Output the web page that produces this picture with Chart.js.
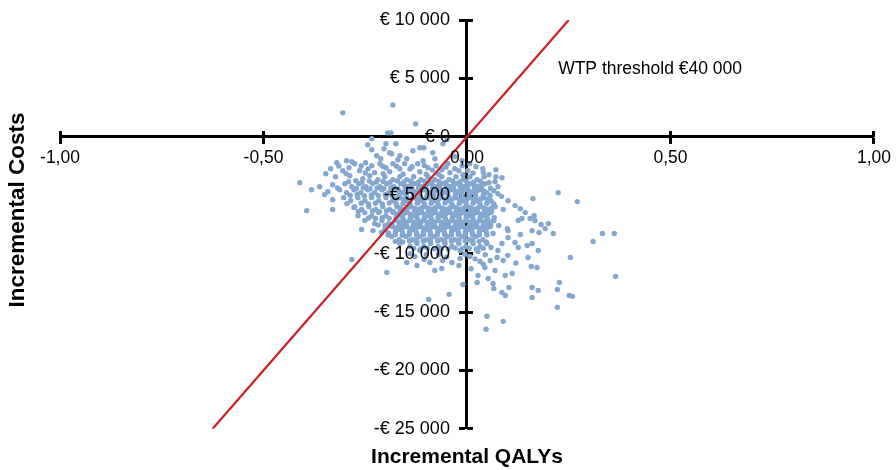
<!DOCTYPE html>
<html>
<head>
<meta charset="utf-8">
<script src="https://cdn.jsdelivr.net/npm/chart.js@4.4.1/dist/chart.umd.min.js"></script>
<style>
  html, body { margin: 0; padding: 0; background: #fff; }
  #wrap { width: 896px; height: 470px; }
</style>
</head>
<body>
<div id="wrap"><canvas id="ce-plane"></canvas></div>
<script>
const qalyTicks = [-1, -0.5, 0, 0.5, 1];
const costTicks = [10000, 5000, 0, -5000, -10000, -15000, -20000, -25000];
const wtpThreshold = 40000;
const wtpLabel = 'WTP threshold €40 000';
const wtpLabelPos = [0.224, 5800];
const xTitle = 'Incremental QALYs';
const yTitle = 'Incremental Costs';

// bootstrap simulations: [incremental QALYs, incremental costs]
const simulations = [
  [-0.182,2730],[-0.305,2050],[-0.126,1110],[-0.195,340],[-0.187,340],[-0.234,-170],
  [-0.049,-260],[-0.059,-600],[-0.244,-680],[-0.199,-600],[-0.175,-600],[-0.204,-1020],[-0.234,-1110],
  [-0.133,-1200],[-0.116,-940],[-0.106,-940],[-0.084,-1370],
  [-0.222,-1620],[-0.190,-1370],[-0.185,-1450],[-0.212,-1880],[-0.170,-1960],[-0.165,-1620],[-0.148,-1880],
  [-0.108,-2050],[-0.079,-1880],[-0.296,-2050],[-0.283,-2130],[-0.320,-2220],[-0.249,-2220],[-0.047,-2300],
  [-0.030,-1710],[-0.012,-2050],[0.007,-2300],
  [-0.335,-2730],[-0.347,-3160],[-0.276,-2300],[-0.305,-2900],[-0.234,-2480],[-0.214,-2300],[-0.199,-2650],
  [-0.182,-2300],[-0.165,-2730],[-0.153,-2300],[-0.135,-2560],[-0.121,-2300],[-0.096,-2650],[-0.076,-2480],
  [-0.062,-2820],[-0.030,-2730],[-0.012,-2480],[0.002,-2900],[0.022,-2560],[0.039,-2730],[0.071,-2820],
  [-0.264,-2900],[-0.227,-3070],[-0.190,-2990],[-0.116,-2990],[-0.042,-3070],[0.054,-3240],
  [-0.315,-2500],[-0.290,-2650],[-0.260,-2500],[-0.243,-2750],[-0.207,-2520],[-0.173,-2520],[-0.140,-2750],
  [-0.105,-2450],[-0.085,-2850],[-0.052,-2600],[-0.020,-2900],[-0.297,-3150],[-0.250,-3100],[-0.206,-3150],
  [-0.157,-3200],[-0.100,-3200],[-0.070,-3200],[-0.010,-3250],[0.015,-3100],[0.040,-3050],
  [-0.323,-3420],[-0.288,-3330],[-0.256,-3590],[-0.239,-3330],[-0.219,-3670],[-0.202,-3420],[-0.182,-3670],
  [-0.165,-3420],[-0.148,-3670],[-0.131,-3420],[-0.113,-3670],[-0.096,-3420],[-0.079,-3670],[-0.062,-3420],
  [-0.044,-3670],[-0.027,-3420],[-0.010,-3670],[0.007,-3420],[0.025,-3670],[0.042,-3420],[0.071,-3420],
  [0.086,-3500],[-0.273,-3760],
  [-0.291,-3850],[-0.258,-3900],[-0.240,-3780],[-0.223,-3880],[-0.206,-3820],[-0.189,-3900],[-0.171,-3790],
  [-0.155,-3870],[-0.138,-3810],[-0.120,-3900],[-0.104,-3800],[-0.086,-3880],[-0.069,-3820],[-0.052,-3900],
  [-0.035,-3790],[-0.018,-3860],[-0.001,-3810],[0.016,-3890],[0.033,-3800],
  [-0.411,-3930],[-0.362,-4270],[-0.330,-4100],[-0.300,-4010],[-0.283,-4270],[-0.266,-4010],[-0.249,-4270],
  [-0.232,-4010],[-0.214,-4270],[-0.197,-4010],[-0.180,-4270],[-0.163,-4010],[-0.145,-4270],[-0.128,-4010],
  [-0.111,-4270],[-0.094,-4010],[-0.076,-4270],[-0.059,-4010],[-0.042,-4270],[-0.025,-4010],[-0.007,-4270],
  [0.010,-4010],[0.027,-4270],[0.044,-4010],[0.069,-3840],[0.054,-3930],[0.076,-4270],
  [-0.154,-4150],[-0.137,-4120],[-0.119,-4170],[-0.102,-4140],[-0.085,-4160],[-0.068,-4130],[-0.050,-4170],
  [-0.033,-4140],[-0.016,-4150],[0.002,-4120],[0.019,-4160],[0.036,-4140],
  [-0.318,-4380],[-0.272,-4420],[-0.255,-4360],[-0.238,-4450],[-0.221,-4390],[-0.204,-4430],[-0.187,-4370],
  [-0.170,-4440],[-0.152,-4380],[-0.136,-4420],[-0.119,-4360],[-0.101,-4450],[-0.084,-4390],[-0.067,-4430],
  [-0.050,-4370],[-0.033,-4440],[-0.016,-4380],[0.001,-4420],[0.018,-4360],[0.035,-4450],[0.058,-4400],
  [-0.382,-4530],[-0.342,-4700],[-0.313,-4530],[-0.296,-4780],[-0.278,-4530],[-0.261,-4780],[-0.244,-4530],
  [-0.227,-4780],[-0.209,-4530],[-0.192,-4780],[-0.175,-4530],[-0.158,-4780],[-0.140,-4530],[-0.123,-4780],
  [-0.106,-4530],[-0.089,-4780],[-0.071,-4530],[-0.054,-4780],[-0.037,-4530],[-0.020,-4780],[-0.002,-4530],
  [0.015,-4780],[0.032,-4530],[0.049,-4780],[0.066,-4610],[0.076,-4870],[0.224,-4780],
  [-0.167,-4650],[-0.149,-4670],[-0.132,-4630],[-0.115,-4660],[-0.097,-4640],[-0.080,-4670],[-0.063,-4650],
  [-0.046,-4630],[-0.028,-4660],[-0.011,-4640],[0.006,-4670],[0.024,-4650],[0.041,-4630],
  [-0.350,-4950],[-0.287,-5000],[-0.270,-4940],[-0.252,-5050],[-0.235,-4980],[-0.218,-5030],[-0.201,-4960],
  [-0.184,-5040],[-0.166,-4970],[-0.149,-5020],[-0.132,-4950],[-0.115,-5050],[-0.098,-4980],[-0.081,-5030],
  [-0.063,-4960],[-0.046,-5040],[-0.029,-4970],[-0.012,-5020],[0.005,-4950],[0.022,-5050],[0.040,-4990],
  [0.057,-5030],[0.085,-5100],
  [-0.330,-5380],[-0.303,-5210],[-0.286,-5470],[-0.268,-5210],[-0.251,-5470],[-0.234,-5210],[-0.217,-5470],
  [-0.199,-5210],[-0.182,-5470],[-0.165,-5210],[-0.148,-5470],[-0.131,-5210],[-0.113,-5470],[-0.096,-5210],
  [-0.079,-5470],[-0.062,-5210],[-0.044,-5470],[-0.027,-5210],[-0.010,-5470],[0.007,-5210],[0.025,-5470],
  [0.042,-5210],[0.059,-5470],[0.101,-5470],[0.162,-5290],[0.271,-5550],
  [-0.174,-5330],[-0.156,-5360],[-0.139,-5340],[-0.122,-5370],[-0.105,-5330],[-0.087,-5350],[-0.070,-5340],
  [-0.053,-5370],[-0.036,-5330],[-0.018,-5360],[-0.001,-5340],[0.016,-5370],[0.034,-5330],[0.051,-5350],
  [-0.295,-5720],[-0.260,-5680],[-0.242,-5750],[-0.225,-5690],[-0.208,-5740],[-0.191,-5670],[-0.174,-5760],
  [-0.157,-5700],[-0.140,-5730],[-0.122,-5680],[-0.105,-5750],[-0.088,-5690],[-0.071,-5740],[-0.054,-5670],
  [-0.037,-5760],[-0.019,-5700],[-0.002,-5730],[0.015,-5680],[0.032,-5750],[0.049,-5690],[0.066,-5740],
  [-0.394,-6320],[-0.330,-6230],[-0.276,-5980],[-0.259,-6230],[-0.241,-5980],[-0.224,-6230],[-0.207,-5980],
  [-0.190,-6230],[-0.172,-5980],[-0.155,-6230],[-0.138,-5980],[-0.121,-6230],[-0.103,-5980],[-0.086,-6230],
  [-0.069,-5980],[-0.052,-6230],[-0.034,-5980],[-0.017,-6230],[0.000,-5980],[0.017,-6230],[0.034,-5980],
  [0.052,-6230],[0.069,-5980],[0.118,-5890],[0.089,-6230],[0.131,-6150],
  [-0.164,-6100],[-0.147,-6080],[-0.129,-6120],[-0.112,-6090],[-0.095,-6110],[-0.078,-6080],[-0.060,-6120],
  [-0.043,-6100],[-0.026,-6090],[-0.008,-6110],[0.009,-6080],[0.026,-6120],[0.043,-6100],[0.061,-6090],
  [-0.267,-6400],[-0.232,-6350],[-0.215,-6410],[-0.198,-6340],[-0.181,-6390],[-0.164,-6360],[-0.147,-6420],
  [-0.129,-6350],[-0.112,-6400],[-0.095,-6340],[-0.078,-6410],[-0.061,-6370],[-0.043,-6400],[-0.026,-6340],
  [-0.009,-6390],[0.008,-6360],[0.025,-6420],[0.043,-6350],[0.060,-6380],
  [-0.173,-6620],[-0.156,-6600],[-0.139,-6640],[-0.122,-6610],[-0.105,-6630],[-0.087,-6600],[-0.070,-6640],
  [-0.053,-6620],[-0.035,-6610],[-0.018,-6630],[-0.001,-6600],[0.016,-6640],[0.033,-6620],[0.051,-6610],
  [-0.278,-6060],[-0.268,-6750],[-0.251,-6490],[-0.234,-6750],[-0.217,-6490],[-0.199,-6750],[-0.182,-6490],
  [-0.165,-6750],[-0.148,-6490],[-0.131,-6750],[-0.113,-6490],[-0.096,-6750],[-0.079,-6490],[-0.062,-6750],
  [-0.044,-6490],[-0.027,-6750],[-0.010,-6490],[0.007,-6750],[0.025,-6490],[0.042,-6750],[0.059,-6490],
  [0.143,-6490],[0.165,-6750],
  [-0.242,-6950],[-0.225,-7000],[-0.208,-6920],[-0.191,-6980],[-0.174,-6940],[-0.157,-7010],[-0.139,-6930],
  [-0.122,-6990],[-0.105,-6950],[-0.088,-7000],[-0.071,-6920],[-0.053,-6980],[-0.036,-6940],[-0.019,-7010],
  [-0.002,-6930],[0.015,-6990],[0.032,-6950],[0.050,-7000],[0.067,-6920],
  [0.155,-7000],[0.126,-7170],[0.135,-7000],[0.167,-7170],[0.182,-7510],[0.200,-7430],
  [-0.227,-7430],[-0.209,-7170],[-0.192,-7430],[-0.175,-7170],[-0.158,-7430],[-0.140,-7170],[-0.123,-7430],
  [-0.106,-7170],[-0.089,-7430],[-0.071,-7170],[-0.054,-7430],[-0.037,-7170],[-0.020,-7430],[-0.002,-7170],
  [0.015,-7430],[0.032,-7170],[0.049,-7430],[0.066,-7170],[-0.251,-7170],
  [-0.166,-7300],[-0.149,-7280],[-0.131,-7320],[-0.114,-7290],[-0.097,-7310],[-0.080,-7280],[-0.062,-7320],
  [-0.045,-7300],[-0.028,-7290],[-0.011,-7310],[0.007,-7280],[0.024,-7320],[0.041,-7300],[0.058,-7290],
  [-0.218,-7560],[-0.201,-7600],[-0.184,-7530],[-0.167,-7590],[-0.149,-7550],[-0.132,-7610],[-0.115,-7540],
  [-0.098,-7580],[-0.080,-7560],[-0.063,-7600],[-0.046,-7530],[-0.029,-7590],[-0.012,-7550],[0.006,-7610],
  [0.023,-7540],[0.040,-7580],[0.058,-7560],[0.078,-7600],
  [-0.176,-7820],[-0.159,-7800],[-0.141,-7840],[-0.124,-7810],[-0.107,-7830],[-0.090,-7800],[-0.073,-7840],
  [-0.055,-7820],[-0.038,-7810],[-0.021,-7830],[-0.004,-7800],[0.014,-7840],[0.031,-7820],[0.048,-7810],
  [-0.259,-7940],[-0.231,-8030],[-0.202,-7940],[-0.185,-7690],[-0.167,-7940],[-0.150,-7690],[-0.133,-7940],
  [-0.116,-7690],[-0.099,-7940],[-0.081,-7690],[-0.064,-7940],[-0.047,-7690],[-0.030,-7940],[-0.012,-7690],
  [0.005,-7940],[0.022,-7690],[0.039,-7940],[0.057,-7690],[0.099,-7860],[0.192,-7860],[0.160,-8030],
  [0.212,-8280],[0.131,-8370],[0.101,-8030],[0.333,-8280],[0.362,-8280],
  [-0.210,-8180],[-0.193,-8230],[-0.176,-8150],[-0.158,-8210],[-0.141,-8170],[-0.124,-8240],[-0.107,-8160],
  [-0.090,-8220],[-0.072,-8180],[-0.055,-8230],[-0.038,-8150],[-0.021,-8210],[-0.004,-8170],[0.013,-8240],
  [0.030,-8160],[0.048,-8220],
  [-0.194,-8400],[-0.176,-8380],[-0.159,-8420],[-0.142,-8390],[-0.124,-8410],[-0.107,-8380],[-0.090,-8420],
  [-0.073,-8400],[-0.055,-8390],[-0.038,-8410],[-0.021,-8380],[-0.004,-8420],[0.014,-8400],[0.031,-8390],
  [0.049,-8410],
  [-0.185,-8540],[-0.167,-8800],[-0.150,-8540],[-0.133,-8800],[-0.116,-8540],[-0.099,-8800],[-0.081,-8540],
  [-0.064,-8800],[-0.047,-8540],[-0.030,-8800],[-0.012,-8540],[0.005,-8800],[0.022,-8540],[0.039,-8800],
  [0.064,-8280],[0.101,-8630],[0.118,-9050],[0.310,-8970],[0.177,-8200],
  [-0.141,-8870],[-0.124,-8850],[-0.107,-8890],[-0.090,-8860],[-0.072,-8880],[-0.055,-8850],[-0.038,-8890],
  [-0.020,-8870],[-0.003,-8860],[0.014,-8880],
  [-0.176,-8950],[-0.158,-9000],[-0.141,-8930],[-0.124,-8990],[-0.107,-8940],[-0.090,-9010],[-0.072,-8930],
  [-0.055,-8980],[-0.038,-8950],[-0.021,-9000],[-0.004,-8930],[0.013,-8990],[0.030,-8950],[0.047,-9000],
  [-0.165,-9140],[-0.140,-9390],[-0.123,-9140],[-0.106,-9390],[-0.089,-9140],[-0.071,-9390],[-0.054,-9140],
  [-0.037,-9390],[-0.020,-9140],[-0.002,-9390],[0.015,-9140],[0.032,-9390],[0.049,-9140],[0.059,-9480],
  [0.086,-9140],[0.126,-9480],[0.148,-9310],[0.160,-9140],[0.175,-9740],[0.076,-9740],[-0.116,-9740],
  [-0.067,-9820],[-0.017,-9740],[0.027,-9820],
  [-0.131,-9550],[-0.114,-9600],[-0.097,-9530],[-0.080,-9590],[-0.063,-9560],[-0.046,-9600],[-0.029,-9530],
  [-0.012,-9580],[0.006,-9550],[0.023,-9600],[0.040,-9540],
  [-0.140,-10000],[-0.100,-10100],[-0.070,-10050],[-0.050,-10300],[-0.005,-10050],[0.020,-10450],[0.045,-10100],
  [0.100,-10150],[0.120,-10800],[-0.060,-10600],[0.040,-10900],[0.010,-11300],[-0.105,-10500],
  [-0.283,-10500],[0.074,-10330],[0.089,-10590],[0.057,-10590],[0.150,-10330],[0.254,-10330],[-0.148,-10760],
  [-0.091,-10760],[-0.037,-10760],[-0.128,-10250],[0.007,-10250],[0.032,-10670],[-0.017,-10420],
  [-0.123,-11020],[-0.079,-11440],[-0.062,-11270],[-0.020,-11020],[-0.197,-11610],[0.044,-11190],[0.069,-11440],
  [0.094,-11870],[0.111,-11700],[0.172,-11190],[0.158,-11100],[0.365,-11960],[0.027,-11870],[0.052,-12130],
  [-0.010,-12640],[0.025,-12470],[0.064,-12550],[0.066,-12980],[0.086,-13320],[0.094,-13580],[0.103,-12900],
  [0.160,-12900],[0.160,-13750],[0.175,-13150],[0.227,-12470],[0.222,-13070],[0.251,-13580],[0.259,-13660],
  [0.222,-14600],[-0.094,-13920],[-0.044,-13490],[0.049,-15370],[0.089,-15800],[0.047,-16480]
];

const FONT = '"Liberation Sans", Arial, sans-serif';
const yLabelAt = -0.042; // QALY value where the cost labels end, left of the axis

const formatQaly = v => v.toFixed(2).replace('.', ',');
const formatCost = v => {
  const s = String(Math.abs(v)).replace(/\B(?=(\d{3})+(?!\d))/g, ' ');
  return (v < 0 ? '-€ ' : '€ ') + s;
};

const costMin = Math.min(...costTicks);
const costMax = Math.max(...costTicks);
const wtpLine = [costMin, costMax].map(c => ({x: c / wtpThreshold, y: c}));

const textPlugin = {
  id: 'planeText',
  afterDatasetsDraw(chart) {
    const {ctx, scales: {x, y}} = chart;
    ctx.save();
    ctx.fillStyle = '#000';
    ctx.textBaseline = 'middle';
    ctx.font = '17.5px ' + FONT;
    ctx.fillText(wtpLabel, x.getPixelForValue(wtpLabelPos[0]), y.getPixelForValue(wtpLabelPos[1]));
    ctx.translate(18, 210);
    ctx.rotate(-Math.PI / 2);
    ctx.textAlign = 'center';
    ctx.font = 'bold 22.5px ' + FONT;
    ctx.fillText(yTitle, 0, 0);
    ctx.restore();
  }
};

const axisTicks = (values) => (scale) => {
  scale.ticks = values.map(v => ({value: v}));
};

const tickAxis = (min, max, values, pos, len, border) => ({
  type: 'linear', min: min, max: max, position: pos,
  afterBuildTicks: axisTicks(values),
  border: border ? {color: '#000', width: 3} : {display: false},
  grid: {drawOnChartArea: false, color: '#000', tickLength: len, tickWidth: 3},
  ticks: {display: false}
});

const labelTicks = (fmt, size, pad) => ({
  z: 1, padding: pad, color: '#000', font: {family: FONT, size: size},
  callback: fmt, autoSkip: false, maxRotation: 0
});

const xAxis = Object.assign(tickAxis(-1, 1, qalyTicks, {y: 0}, 6, true), {
  ticks: labelTicks(v => formatQaly(v), 17.5, 5)
});

const yLabels = {
  type: 'linear', min: costMin, max: costMax, position: {x: yLabelAt},
  afterBuildTicks: axisTicks(costTicks),
  border: {display: false},
  grid: {display: false},
  ticks: labelTicks(v => formatCost(v), 18, 0)
};

const ctx = document.getElementById('ce-plane').getContext('2d');
new Chart(ctx, {
  type: 'scatter',
  data: {
    datasets: [{
      data: simulations.map(p => ({x: p[0], y: p[1]})),
      backgroundColor: '#84a7d0',
      pointRadius: 2.7,
      pointBorderWidth: 0,
      order: 1
    }, {
      data: wtpLine,
      showLine: true,
      borderColor: '#c8202a',
      borderWidth: 2.2,
      pointRadius: 0,
      order: 0
    }]
  },
  options: {
    responsive: true,
    maintainAspectRatio: false,
    devicePixelRatio: 1,
    animation: false,
    events: [],
    layout: {padding: {top: 20, right: 22, bottom: 0, left: 60}},
    scales: {
      x: xAxis,
      y: tickAxis(costMin, costMax, costTicks, {x: 0}, 6, true),
      x2: tickAxis(-1, 1, qalyTicks, {y: 0}, -6, false),
      y2: tickAxis(costMin, costMax, costTicks, {x: 0}, -6, false),
      yl: yLabels
    },
    plugins: {
      legend: {display: false},
      tooltip: {enabled: false},
      title: {
        display: true, position: 'bottom', fullSize: false, text: xTitle, color: '#000',
        font: {family: FONT, size: 21, weight: 'bold'}, padding: {top: 16, bottom: 0}
      }
    }
  },
  plugins: [textPlugin]
});
</script>
</body>
</html>
